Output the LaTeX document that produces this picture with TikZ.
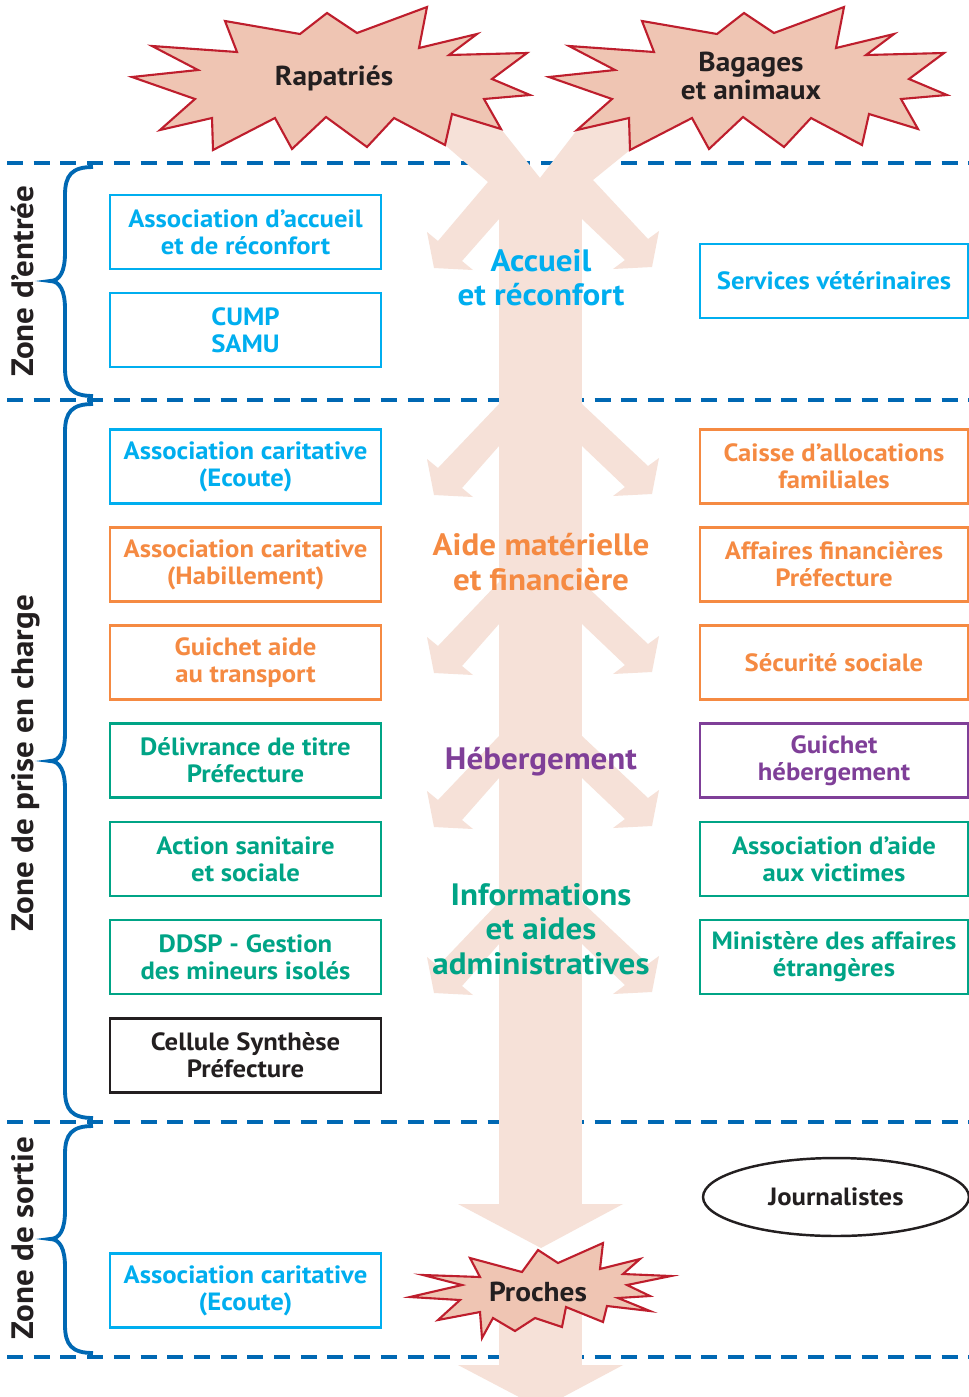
\documentclass[tikz,border=0pt]{standalone}
\usepackage{fontspec}
\setmainfont{PT Sans}[FakeStretch=1.07]
\usetikzlibrary{shapes.geometric}
\definecolor{acc}{HTML}{00AEEF}
\definecolor{ora}{HTML}{F58A42}
\definecolor{gre}{HTML}{00A486}
\definecolor{pur}{HTML}{7F3F98}
\definecolor{blk}{HTML}{231F20}
\definecolor{zoneblue}{HTML}{0068B3}
\definecolor{flowc}{HTML}{F6E1D8}
\definecolor{starfill}{HTML}{EFC5B3}
\definecolor{stardraw}{HTML}{BE1E2D}

\begin{document}
\begin{tikzpicture}[x=0.02cm, y=-0.02cm]
  \tikzset{
    box/.style={draw=#1, text=#1, line width=1.2pt, minimum width=5.42cm,
      minimum height=1.48cm, inner sep=0pt, align=center,
      font=\bfseries\fontsize{14.2}{15.4}\selectfont},
    rbox/.style={box=#1, minimum width=5.36cm},
    theme/.style={text=#1, align=center, font=\bfseries\fontsize{17.6}{19.5}\selectfont},
    zone/.style={rotate=90, anchor=base, text=blk, font=\bfseries\fontsize{17.6}{20}\selectfont},
    zoneline/.style={draw=zoneblue, line width=2.3pt, dash pattern=on 9.1pt off 6.1pt},
    zbrace/.style={draw=zoneblue, line width=2.2pt},
    burst/.style={fill=starfill, draw=stardraw, line width=1.2pt},
    burstlabel/.style={text=blk, align=center, font=\bfseries\fontsize{15.6}{16.1}\selectfont},
    flow/.style={fill=flowc},
  }
  \useasboundingbox (0,0) rectangle (969,1397);
  \fill[white] (0,0) rectangle (969,1397);

  %zone separators
  \draw[zoneline] (7,163) -- (969,163);
  \draw[zoneline] (7,400) -- (969,400);
  \draw[zoneline] (7,1122) -- (969,1122);
  \draw[zoneline] (7,1357) -- (969,1357);

  %zone braces
  \draw[zbrace] (93,167) .. controls (72,167) and (65,175) .. (65,195) -- (65,253)
    .. controls (65,271) and (60,281) .. (50,281) .. controls (60,281) and (65,291) .. (65,309)
    -- (65,368) .. controls (65,388) and (72,396) .. (93,396);
  \draw[zbrace] (93,404) .. controls (72,404) and (65,412) .. (65,432) -- (65,733)
    .. controls (65,751) and (60,761) .. (50,761) .. controls (60,761) and (65,771) .. (65,789)
    -- (65,1090) .. controls (65,1110) and (72,1118) .. (93,1118);
  \draw[zbrace] (93,1126) .. controls (72,1126) and (65,1134) .. (65,1154) -- (65,1211)
    .. controls (65,1229) and (60,1239) .. (50,1239) .. controls (60,1239) and (65,1249) .. (65,1267)
    -- (65,1325) .. controls (65,1345) and (72,1353) .. (93,1353);
  \node[zone] (z1) at (33,281) {Zone d’entrée};
  \node[zone] (z2) at (33,763) {Zone de prise en charge};
  \node[zone] (z3) at (33,1238) {Zone de sortie};

  %main flow
  \fill[flow] (499,200) rectangle (582,1204);
  \fill[flow] (458,1204) -- (623,1204) -- (541,1248) -- cycle;
  \fill[flow] (499,1290) rectangle (582,1365);
  \fill[flow] (458,1365) -- (623,1365) -- (563,1397) -- (519,1397) -- cycle;
  %crossing under the bursts
  \fill[flow] (499,219) -- (462,261) -- (473,270) -- (434,268) -- (427,232) -- (438,241)
    -- (488,182) -- (445,145) -- (452,114) -- (501,129) -- (540,178) -- (577,130)
    -- (629,118) -- (630,150) -- (593,180) -- (648,239) -- (659,231) -- (652,267)
    -- (613,269) -- (625,260) -- (582,219) -- cycle;
  %branches
  \fill[flow] (499,404) -- (438,468) -- (427,459) -- (434,495) -- (473,497) -- (462,488) -- (499,446) -- cycle;
  \fill[flow] (582,404) -- (648,466) -- (659,458) -- (652,494) -- (613,496) -- (625,487) -- (582,446) -- cycle;
  \fill[flow] (499,582) -- (438,646) -- (427,637) -- (434,673) -- (473,675) -- (462,666) -- (499,624) -- cycle;
  \fill[flow] (582,582) -- (648,644) -- (659,636) -- (652,672) -- (613,674) -- (625,665) -- (582,624) -- cycle;
  \fill[flow] (499,736) -- (438,800) -- (427,791) -- (434,827) -- (473,829) -- (462,820) -- (499,778) -- cycle;
  \fill[flow] (582,736) -- (648,798) -- (659,790) -- (652,826) -- (613,828) -- (625,819) -- (582,778) -- cycle;
  \fill[flow] (499,902) -- (438,966) -- (427,957) -- (434,993) -- (473,995) -- (462,986) -- (499,944) -- cycle;
  \fill[flow] (582,902) -- (648,964) -- (659,956) -- (652,992) -- (613,994) -- (625,985) -- (582,944) -- cycle;

  %bursts
  \draw[burst] (327,13) -- (357,33) -- (427,7) -- (419,48) -- (477,34) -- (449,55) -- (527,53)
    -- (492,79) -- (530,95) -- (484,99) -- (501,129) -- (452,114) -- (445,145) -- (394,118)
    -- (367,147) -- (326,117) -- (292,149) -- (275,118) -- (213,150) -- (212,118) -- (160,130)
    -- (195,99) -- (132,77) -- (198,70) -- (152,46) -- (237,52) -- (225,21) -- (300,34) -- cycle;
  \draw[burst, shift={(417,0)}] (327,13) -- (357,33) -- (427,7) -- (419,48) -- (477,34) -- (449,55) -- (527,53)
    -- (492,79) -- (530,95) -- (484,99) -- (501,129) -- (452,114) -- (445,145) -- (394,118)
    -- (367,147) -- (326,117) -- (292,149) -- (275,118) -- (213,150) -- (212,118) -- (160,130)
    -- (195,99) -- (132,77) -- (198,70) -- (152,46) -- (237,52) -- (225,21) -- (300,34) -- cycle;
  \draw[burst] (538,1250) -- (558,1263) -- (603,1243) -- (600,1269) -- (640,1259) -- (623,1274)
    -- (671,1276) -- (627,1285) -- (650,1296) -- (618,1298) -- (650,1311) -- (607,1306)
    -- (603,1322) -- (566,1307) -- (562,1327) -- (535,1318) -- (515,1331) -- (493,1318)
    -- (482,1338) -- (480,1312) -- (438,1320) -- (460,1300) -- (410,1297) -- (462,1285)
    -- (423,1275) -- (480,1277) -- (470,1258) -- (522,1272) -- cycle;
  \node[burstlabel] (rap) at (334,78) {Rapatriés};
  \node[burstlabel] (bag) at (751,76) {Bagages\\et animaux};
  \node[burstlabel] (pro) at (538,1292) {Proches};

  %themes along the flow
  \node[theme=acc] (t1) at (541,278) {Accueil\\et réconfort};
  \node[theme=ora] (t2) at (541,562) {Aide matérielle\\et financière};
  \node[theme=pur] (t3) at (541,762) {Hébergement};
  \node[theme=gre] (t4) at (541,929) {Informations\\et aides\\administratives};

  %left column
  \node[box=acc] (l1) at (245.5,232) {Association d’accueil\\et de réconfort};
  \node[box=acc] (l2) at (245.5,330) {CUMP\\SAMU};
  \node[box=acc] (l3) at (245.5,466.5) {Association caritative\\(Ecoute)};
  \node[box=ora] (l4) at (245.5,564.5) {Association caritative\\(Habillement)};
  \node[box=ora] (l5) at (245.5,662.5) {Guichet aide\\au transport};
  \node[box=gre] (l6) at (245.5,760.5) {Délivrance de titre\\Préfecture};
  \node[box=gre] (l7) at (245.5,859) {Action sanitaire\\et sociale};
  \node[box=gre] (l8) at (245.5,957) {DDSP - Gestion\\des mineurs isolés};
  \node[box=blk] (l9) at (245.5,1055.5) {Cellule Synthèse\\Préfecture};
  \node[box=acc] (l10) at (245.5,1290.5) {Association caritative\\(Ecoute)};

  %right column
  \node[rbox=acc] (r1) at (834,281) {Services vétérinaires};
  \node[rbox=ora] (r2) at (834,466.5) {Caisse d’allocations\\familiales};
  \node[rbox=ora] (r3) at (834,564.5) {Affaires financières\\Préfecture};
  \node[rbox=ora] (r4) at (834,662.5) {Sécurité sociale};
  \node[rbox=pur] (r5) at (834,760.5) {Guichet\\hébergement};
  \node[rbox=gre] (r6) at (834,859) {Association d’aide\\aux victimes};
  \node[rbox=gre] (r7) at (834,957) {Ministère des affaires\\étrangères};
  \node[ellipse, draw=blk, line width=1.4pt, minimum width=5.32cm, minimum height=1.56cm,
    text=blk, font=\bfseries\fontsize{14.2}{15.4}\selectfont] (jour) at (836,1197) {Journalistes};
\end{tikzpicture}
\end{document}
